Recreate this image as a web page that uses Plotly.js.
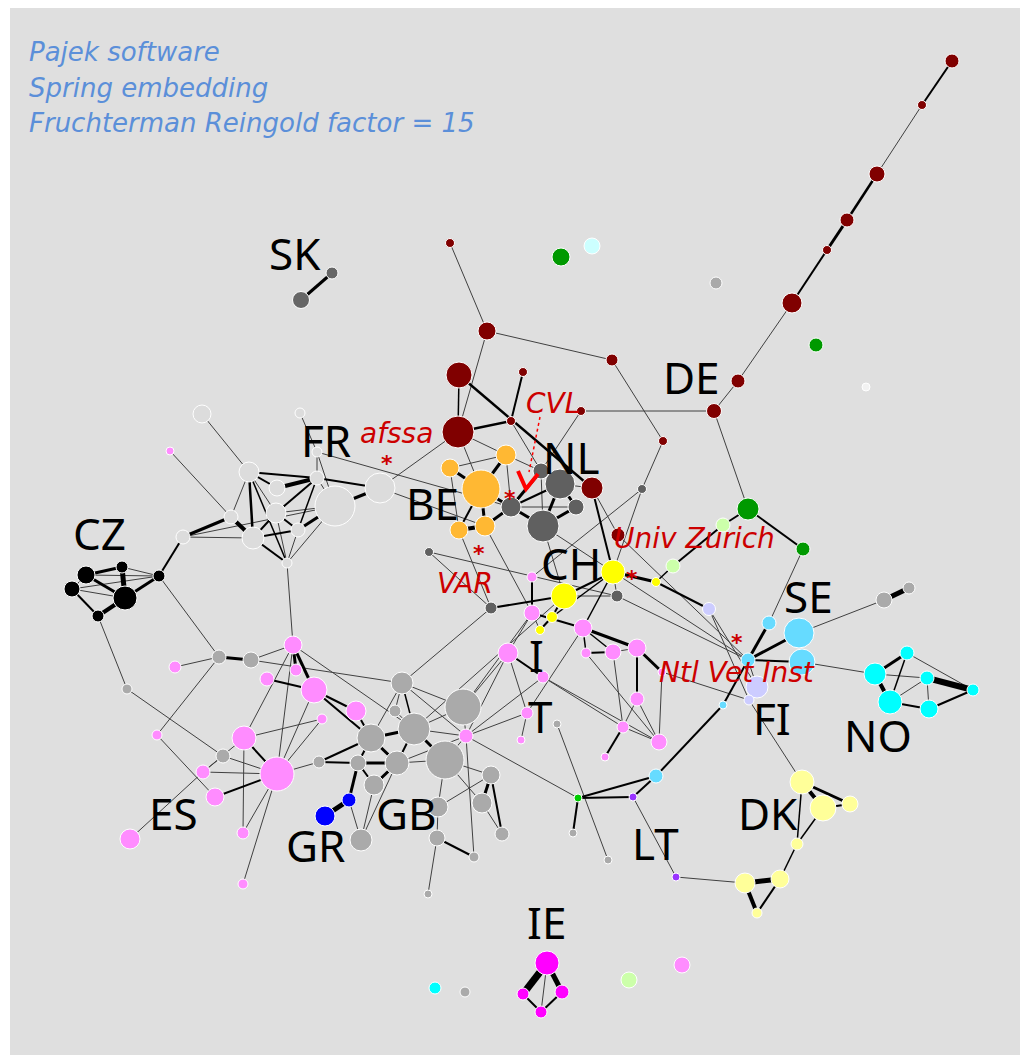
<!DOCTYPE html>
<html><head><meta charset="utf-8">
<script src="https://cdn.plot.ly/plotly-3.0.1.min.js"></script>
<style>body{margin:0;background:#fff}</style>
</head><body><div id="chart" style="width:1024px;height:1059px"></div>
<script>
// ---- node groups: [id, x, y, size] (layout coordinates from the Pajek drawing) ----
const DE = [["de1",952,61,14],["de2",922,105,9],["de3",877,174,16],["de4",847,220,14],["de5",827,250,9],["de6",792,303,20],["de7",738,381,14],["de8",714,411,15],["de9",450,243,9],["de10",487,331,18],["de11",612,360,12],["de12",459,375,26],["de13",523,372,9],["de14",511,421,9],["de15",581,411,9],["de16",458,432,32],["de17",663,441,9],["de18",592,488,22],["de19",618,535,14]];
const GREEN = [["g1",561,257,18],["g2",816,345,14],["seg1",748,509,22],["seg2",803,549,14]];
const LCYAN = [["c1",592,246,16]];
const GREY = [["gr1",716,283,12],["sg1",884,600,16],["sg2",909,588,12],["gy1",465,992,10],["esg1",219,657,14],["esg2",251,660,16],["esg3",127,689,10],["esg4",223,756,14],
 ["gb1",402,683,22],["gb2",463,707,36],["gb3",395,711,12],["gb4",414,729,32],["gb5",371,738,28],["gb6",445,760,38],["gb7",397,763,24],["gb8",319,762,12],["gb9",358,763,16],["gb10",374,785,20],["gb11",491,775,18],["gb12",482,803,20],["gb13",438,807,20],["gb14",502,834,14],["gb15",437,838,16],["gb16",474,857,10],["gb17",361,840,22],["gb18",557,724,8],["gb19",428,894,8],["gb20",573,833,8],["gb21",608,860,8]];
const WHITE = [["w1",866,387,8]];
const SK = [["sk1",301,300,17],["sk2",332,273,12]];
const BE = [["be1",506,455,20],["be2",450,468,18],["be3",481,489,38],["be4",485,526,20],["be5",459,530,18]];
const NL = [["nl1",541,471,16],["nl2",560,484,30],["nl3",511,507,20],["nl4",576,507,16],["nl5",543,526,32],["nl6",642,489,9],["nl7",429,552,9],["nl8",491,608,12],["nl9",617,596,12]];
const CH = [["ch1",613,572,24],["ch2",564,596,26],["ch3",656,582,9],["ch4",552,617,11],["ch5",540,630,9]];
const LGREEN = [["lg1",673,566,14],["lg2",723,525,14],["lg3",629,980,16]];
const LAV = [["lv1",709,609,13],["lv2",757,687,22],["lv3",749,700,10]];
const LBLUE = [["lb1",769,623,14],["lb2",799,633,30],["lb3",748,660,14],["lb4",802,662,26],["lb5",723,705,8],["lb6",656,776,14]];
const CYAN = [["no1",875,674,22],["no2",907,653,14],["no3",927,678,14],["no4",890,702,24],["no5",929,709,18],["no6",973,690,12],["cy1",435,988,12]];
const PYELLOW = [["dk1",802,782,24],["dk2",823,808,26],["dk3",850,804,16],["dk4",797,844,12],["dk5",780,879,18],["dk6",745,883,20],["dk7",757,913,10]];
const PURPLE = [["lt1",633,797,8],["lt2",676,877,8]];
const BGREEN = [["gs1",578,798,8]];
const MAGENTA = [["ie1",547,963,24],["ie2",523,994,12],["ie3",562,992,14],["ie4",541,1012,12]];
const PINK = [["pk1",682,965,16],["frp",170,451,8],
 ["it1",532,577,10],["it2",532,613,16],["it3",583,628,18],["it4",508,653,20],["it5",586,653,10],["it6",613,652,16],["it7",637,648,18],["it8",543,677,12],["it9",637,699,14],["it10",527,713,12],["it11",623,727,12],["it12",521,740,8],["it13",659,742,16],["it14",605,757,8],["it15",466,736,14],["it16",662,672,8],
 ["es1",293,645,18],["es2",175,667,12],["es3",296,670,12],["es4",267,679,14],["es5",314,690,26],["es6",356,711,20],["es7",322,719,10],["es8",157,735,10],["es9",244,738,24],["es10",203,772,14],["es11",277,774,34],["es12",215,797,18],["es13",130,839,20],["es14",243,833,12],["es15",243,884,10]];
const FR = [["fr1",202,414,18],["fr2",300,413,10],["fr3",317,452,10],["fr4",249,472,20],["fr5",317,478,14],["fr6",277,488,16],["fr7",380,488,30],["fr8",335,506,40],["fr9",276,513,20],["fr10",231,517,14],["fr11",298,530,14],["fr12",253,538,22],["fr13",183,537,14],["fr14",287,563,10]];
const CZ = [["cz1",86,575,18],["cz2",122,567,12],["cz3",72,589,16],["cz4",125,598,24],["cz5",98,616,12],["cz6",159,576,12]];
const GRB = [["gra",349,800,14],["grb",325,816,20]];

// ---- edges: [from, to, weight] ----
const edges = [
 ["de1","de2",2],["de2","de3",1],["de3","de4",2.5],["de4","de5",3],["de5","de6",2],["de6","de7",1],["de7","de8",1],["de8","seg1",1],["de15","de8",1],
 ["de9","de10",1],["de10","de11",1],["de10","de16",1],["de11","de17",1],["de17","nl6",1],["de12","de16",1.5],["de12","de18",2.5],["de13","de14",2],["de14","de16",2.5],["de14","nl1",1],
 ["de16","fr7",1],["de16","be1",1],["de16","be3",1],["de18","ch1",2],["de18","de19",1],["de18","nl2",1],["de15","nl1",1],
 ["seg1","lg2",2],["lg2","lg1",2],["lg1","ch3",1.5],["ch3","ch1",3],["ch3","lv1",2],["seg1","seg2",2],["seg2","lb1",1],["lb1","lb3",3],["lb2","lb3",3],["lb3","lb4",2],["lb3","lv2",1],["lb3","lb5",2],["lb5","lb6",2],
 ["lb2","sg1",1],["sg1","sg2",5],["lb4","no1",1],["nl9","lb3",1],["nl5","lb3",1],["de19","lb3",1],["it16","lv3",1],["lv1","lv3",1],["lv1","lv2",1],["lv3","dk1",1],
 ["lb6","lt1",2],["lb6","gs1",2],["gs1","lt1",2],["gs1","gb20",2],["lt1","lt2",1],["lt2","dk6",1],["it15","gs1",1],["gb18","gb21",1],
 ["no1","no2",3],["no1","no4",4],["no2","no4",1.5],["no2","no6",1],["no1","no3",1],["no3","no6",6],["no3","no4",1],["no3","no5",1],["no4","no5",2],["no5","no6",2],
 ["dk1","dk2",4],["dk1","dk3",3],["dk2","dk3",2],["dk1","dk4",1.5],["dk2","dk4",1.5],["dk4","dk5",1.5],["dk5","dk6",5],["dk6","dk7",4],["dk5","dk7",2],
 ["ie1","ie2",7],["ie1","ie3",5],["ie1","ie4",1],["ie2","ie4",2],["ie3","ie4",2],
 ["sk1","sk2",3],
 ["cz1","cz2",3],["cz1","cz3",1],["cz1","cz4",3],["cz2","cz4",5],["cz3","cz4",1],["cz3","cz5",2],["cz5","cz4",4],["cz4","cz6",3],["cz1","cz6",1],["cz3","cz6",1],["cz2","cz6",1],["cz6","fr13",2],["cz6","esg1",1],["cz5","esg3",1],
 ["fr1","fr4",1],["fr2","fr3",1],["fr3","fr5",1],["fr3","fr8",1],["fr3","nl3",1],["fr4","fr5",2],["fr4","fr6",2],["fr4","fr9",1],["fr4","fr10",1],["fr4","fr12",2.5],["fr4","fr14",1.5],
 ["fr6","fr5",4],["fr5","fr9",2],["fr5","fr11",1.5],["fr5","fr7",2],["fr5","fr8",1],["fr8","fr7",3],["fr9","fr12",2],["fr9","fr11",2],["fr9","fr14",1],["fr9","fr8",1],["fr10","fr12",4],["fr10","fr13",3],
 ["fr13","fr12",1],["fr13","fr8",1],["fr11","fr12",2],["fr11","fr8",3],["fr12","fr14",2],["fr11","fr14",1],["fr8","fr14",1],["fr14","es1",1],["fr7","be4",1],["frp","fr10",1],
 ["be3","be1",3],["be3","be2",3],["be3","be4",3],["be3","be5",2],["be2","be1",1],["be2","be5",1],["be4","be5",4],["be1","nl3",1],["be3","nl3",3],["be4","nl3",3],["be1","nl1",1],
 ["nl3","nl1",3],["nl3","nl2",2],["nl3","nl5",3],["nl1","nl2",2],["nl2","nl4",3],["nl4","nl5",3],["nl2","nl5",3],["nl3","nl4",1],["nl1","nl5",1],["nl7","nl9",1],["nl7","nl8",1],["nl8","ch2",2],
 ["nl6","it1",1],["nl6","ch1",1],["nl5","ch2",1],["be4","it2",1],["be5","nl8",1],
 ["ch1","ch2",2],["ch1","ch4",1.5],["ch1","nl9",1],["ch2","nl9",1],["ch2","ch4",2],["ch4","ch5",2],["ch5","it2",1],["ch2","gb4",1],["ch1","it3",1.5],
 ["it1","it2",2],["it2","it3",2],["it2","it4",1],["it3","it7",3],["it3","it6",1.5],["it3","it5",1.5],["it5","it6",2],["it6","it7",1],["it7","it16",3],["it7","it9",2],["it6","it11",1],["it9","it11",1],["it9","it13",1],
 ["it11","it14",2],["it13","it11",1],["it4","it8",2],["it4","it10",1],["it8","it11",1],["it10","it12",1],["it3","it10",1],["it5","it13",1],["it16","it13",1],["it8","it13",1],
 ["it15","it4",1],["it15","it8",1],["it15","it10",1],["it15","gb4",1],["it15","gb1",1],["it15","gb6",1],["it15","gb16",1],["it15","gb7",1],["it15","gb2",1],
 ["gb1","gb3",1],["gb1","gb4",1.5],["gb1","gb5",1],["gb1","gb2",1],["gb1","nl8",1],["gb2","gb4",1],["gb2","it4",1],["gb2","it2",1],["gb4","gb5",3],["gb4","gb6",3],["gb4","gb7",2],["gb5","gb9",2],["gb5","gb7",3],
 ["gb6","gb7",1],["gb7","gb9",3],["gb7","gb10",3],["gb7","gb17",1],["gb9","gb10",2],["gb9","gra",3],["gra","grb",5],["gra","gb17",1],["gb6","gb13",1],["gb6","gb11",1],["gb6","gb12",1],
 ["gb11","gb12",3],["gb11","gb14",2],["gb12","gb14",1],["gb13","gb15",1],["gb13","gb11",1],["gb15","gb16",2],["gb15","gb19",1],["gb8","gb9",2],["gb8","gb5",2],["gb10","gb17",1],["gb3","gb4",1],
 ["esg1","esg2",3],["esg1","es2",1],["esg1","es8",1],["es8","es12",1],["esg2","es1",1],["esg2","gb1",1],["es1","es3",3],["es1","es5",3],["es1","es9",1],["es1","es11",1],["es4","es5",2],["es5","es6",2],
 ["es5","es11",1],["es5","gb5",2],["es9","es11",2],["es9","es7",1],["es9","es14",1],["es11","es14",1],["es11","es15",1],["es11","es12",2],["es11","es10",1],["es10","es13",1],["esg3","esg4",1],
 ["esg4","es11",1],["esg4","es10",1],["es11","gb8",1],["es6","gb5",2],["es7","es11",1],["es1","gb4",1],["es10","es9",1]
];

// ---- labels ----
const countryLabels = ["SK","FR","CZ","BE","NL","DE","CH","SE","I","T","FI","NO","ES","GR","GB","DK","LT","IE"];
const countryX = [295,326,99,432,571,691,571,808,536,540,772,878,173,315,406,768,655,546];
const countryY = [253,440,533,503,457,377,563,596,655,716,718,735,813,845,813,813,843,922];
const instLabels = ["afssa","CVL","Univ Zurich","VAR","Ntl Vet Inst"];
const instX = [396,553,694,465,737];
const instY = [433,403,538,583,672];
const starX = [387,510,632,479,737];
const starY = [463,498,578,553,642];
const titleLines = ["Pajek software","Spring embedding","Fruchterman Reingold factor = 15"];

const groups = [
 [FR,'#dcdcdc'],[DE,'#800000'],[GREEN,'#009900'],[LCYAN,'#ccffff'],[GREY,'#aaaaaa'],[WHITE,'#f2f2f2'],[SK,'#666666'],[BE,'#ffb833'],[NL,'#606060'],
 [CH,'#ffff00'],[LGREEN,'#ccffaa'],[LAV,'#ccccff'],[LBLUE,'#66dbff'],[CYAN,'#00ffff'],[PYELLOW,'#ffff99'],[PURPLE,'#9933ff'],[BGREEN,'#00cc00'],
 [MAGENTA,'#ff00ff'],[PINK,'#ff8cff'],[CZ,'#000000'],[GRB,'#0000ff']
];

const pos = {};
groups.forEach(([arr]) => arr.forEach(n => { pos[n[0]] = [n[1], n[2]]; }));

const traces = [];
const weights = [...new Set(edges.map(e => e[2]))].sort((a,b)=>a-b);
weights.forEach(w => {
  const xs = [], ys = [];
  edges.filter(e => e[2] === w).forEach(e => {
    const a = pos[e[0]], b = pos[e[1]];
    if (!a || !b) return;
    xs.push(a[0], b[0], null); ys.push(a[1], b[1], null);
  });
  traces.push({type:'scatter', mode:'lines', x:xs, y:ys, hoverinfo:'skip',
    line:{width:w, color: w <= 1 ? '#404040' : '#000000'}});
});
groups.forEach(([arr, col]) => {
  traces.push({type:'scatter', mode:'markers', x:arr.map(n=>n[1]), y:arr.map(n=>n[2]), hoverinfo:'skip',
    marker:{size:arr.map(n=>n[3]), color:col, opacity:1, line:{color:'#ffffff', width:1}}});
});

const RED = '#cc0000';
const annotations = [];
countryLabels.forEach((t,i) => annotations.push({x:countryX[i], y:countryY[i], xref:'x', yref:'y', text:t, showarrow:false,
  font:{family:'Noto Sans', size:44, color:'#000'}, xanchor:'center', yanchor:'middle', borderpad:0}));
instLabels.forEach((t,i) => annotations.push({x:instX[i], y:instY[i], xref:'x', yref:'y', text:'<i>'+t+'</i>', showarrow:false,
  font:{family:'DejaVu Sans', size:28, color:RED}, xanchor:'center', yanchor:'middle', borderpad:0}));
starX.forEach((x,i) => annotations.push({x:x, y:starY[i], xref:'x', yref:'y', text:'<b>*</b>', showarrow:false,
  font:{family:'DejaVu Sans', size:22, color:RED}, xanchor:'center', yanchor:'middle', borderpad:0}));
titleLines.forEach((t,i) => annotations.push({x:28, y:52 + i*35.5, xref:'x', yref:'y', text:'<i>'+t+'</i>', showarrow:false,
  font:{family:'DejaVu Sans', size:26, color:'#5b8fd9'}, xanchor:'left', yanchor:'middle', borderpad:0}));

const layout = {
  width:1024, height:1059, margin:{l:10, r:4, t:8, b:4},
  paper_bgcolor:'#ffffff', plot_bgcolor:'#dfdfdf', showlegend:false, hovermode:false,
  xaxis:{range:[10,1020], visible:false, fixedrange:true},
  yaxis:{range:[1055,8], visible:false, fixedrange:true},
  annotations: annotations,
  shapes:[
    {type:'line', xref:'x', yref:'y', x0:540, y0:417, x1:529, y1:472, line:{color:'#ff0000', width:1.5, dash:'dot'}},
    {type:'path', xref:'x', yref:'y', path:'M 518 471 L 526 489 L 538 474', line:{color:'#ff0000', width:4}}
  ]
};
Plotly.newPlot('chart', traces, layout, {staticPlot:true, displayModeBar:false});
</script></body></html>
